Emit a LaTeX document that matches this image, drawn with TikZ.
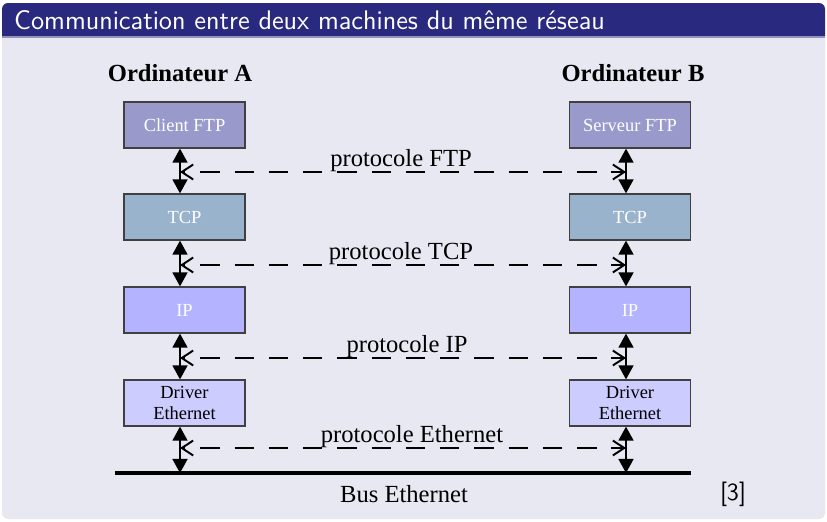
\documentclass[tikz,border=0pt]{standalone}
\usepackage{fontspec}
\setmainfont{Liberation Serif}
\usetikzlibrary{positioning, arrows.meta, calc}

\definecolor{titlebg}{HTML}{29297F}
\definecolor{bodybg}{HTML}{E8E8F2}
\definecolor{ftpfill}{HTML}{9999CC}
\definecolor{tcpfill}{HTML}{99B3CC}
\definecolor{ipfill}{HTML}{B3B3FF}
\definecolor{drvfill}{HTML}{CCCCFF}

\tikzset{
  layer/.style={draw=black!75, line width=0.7pt, minimum width=2.42cm, minimum height=0.92cm,
    inner sep=0pt, align=center, font=\fontsize{10.5}{12}\selectfont, text=white},
  machine/.style={font=\fontsize{14}{16}\selectfont\bfseries},
  updown/.style={{Triangle[length=8pt,width=8.5pt]}-{Triangle[length=8pt,width=8.5pt]}, line width=1.1pt},
  proto/.style={{Straight Barb[length=6.5pt,width=8.5pt,line width=1.1pt]}-{Straight Barb[length=6.5pt,width=8.5pt,line width=1.1pt]},
    line width=0.9pt, dash pattern=on 11pt off 8.5pt, dash phase=-10pt},
  protolabel/.style={font=\fontsize{14}{16}\selectfont, anchor=base, yshift=3.4pt, inner sep=0pt}
}

\begin{document}
\begin{tikzpicture}[x=0.02cm, y=-0.02cm]
\useasboundingbox (0,0) rectangle (827,521);

% Block
\fill[bodybg, rounded corners=0.12cm] (2,25) rectangle (825,519);
\fill[titlebg] (2,36) [rounded corners=0.12cm] -- (2,3) -- (825,3) [sharp corners] -- (825,36) -- cycle;
\fill[titlebg!45!bodybg] (2,36) rectangle (825,38);
\node[anchor=west, text=white, font=\fontsize{15.3}{18}\selectfont\sffamily] (titre) at (8,20)
  {Communication entre deux machines du même réseau};

% Machines
\node[machine] (ordA) at (180,73) {Ordinateur A};
\node[machine] (ordB) at (633,73) {Ordinateur B};

% Layers, machine A
\node[layer, fill=ftpfill] (ftpA) at (184.5,125) {Client FTP};
\node[layer, fill=tcpfill] (tcpA) at (184.5,217) {TCP};
\node[layer, fill=ipfill] (ipA) at (184.5,310) {IP};
\node[layer, fill=drvfill, text=black] (drvA) at (184.5,403) {Driver\\Ethernet};

% Layers, machine B
\node[layer, fill=ftpfill] (ftpB) at (630,125) {Serveur FTP};
\node[layer, fill=tcpfill] (tcpB) at (630,217) {TCP};
\node[layer, fill=ipfill] (ipB) at (630,310) {IP};
\node[layer, fill=drvfill, text=black] (drvB) at (630,403) {Driver\\Ethernet};

% Bus
\coordinate (busL) at (115,473);
\coordinate (busR) at (691,473);
\coordinate (busA) at (180,473);
\coordinate (busB) at (626,473);
\draw[line width=2.3pt] (busL) -- (busR);
\node[font=\fontsize{14}{16}\selectfont] (bus) at (404,494) {Bus Ethernet};

% Vertical arrows
\draw[updown] ($(ftpA.south)+(-4.5,0)$) -- ($(tcpA.north)+(-4.5,0)$);
\draw[updown] ($(tcpA.south)+(-4.5,0)$) -- ($(ipA.north)+(-4.5,0)$);
\draw[updown] ($(ipA.south)+(-4.5,0)$) -- ($(drvA.north)+(-4.5,0)$);
\draw[updown] ($(drvA.south)+(-4.5,0)$) -- (busA);
\draw[updown] ($(ftpB.south)+(-4,0)$) -- ($(tcpB.north)+(-4,0)$);
\draw[updown] ($(tcpB.south)+(-4,0)$) -- ($(ipB.north)+(-4,0)$);
\draw[updown] ($(ipB.south)+(-4,0)$) -- ($(drvB.north)+(-4,0)$);
\draw[updown] ($(drvB.south)+(-4,0)$) -- (busB);

% Protocols
\coordinate (pA1) at (180,172);  \coordinate (pB1) at (626,172);
\coordinate (pA2) at (180,265);  \coordinate (pB2) at (626,265);
\coordinate (pA3) at (180,358);  \coordinate (pB3) at (626,358);
\coordinate (pA4) at (180,448);  \coordinate (pB4) at (626,448);
\draw[proto] (pA1) -- node[protolabel, xshift=-0.04cm] (lftp) {protocole FTP} (pB1);
\draw[proto] (pA2) -- node[protolabel, xshift=-0.04cm] (ltcp) {protocole TCP} (pB2);
\draw[proto] (pA3) -- node[protolabel, xshift=0.08cm] (lip) {protocole IP} (pB3);
\draw[proto] (pA4) -- node[protolabel, xshift=0.18cm] (leth) {protocole Ethernet} (pB4);

% Source
\node[font=\fontsize{14}{16}\selectfont\sffamily] (src) at (733,494) {[3]};

\end{tikzpicture}
\end{document}
